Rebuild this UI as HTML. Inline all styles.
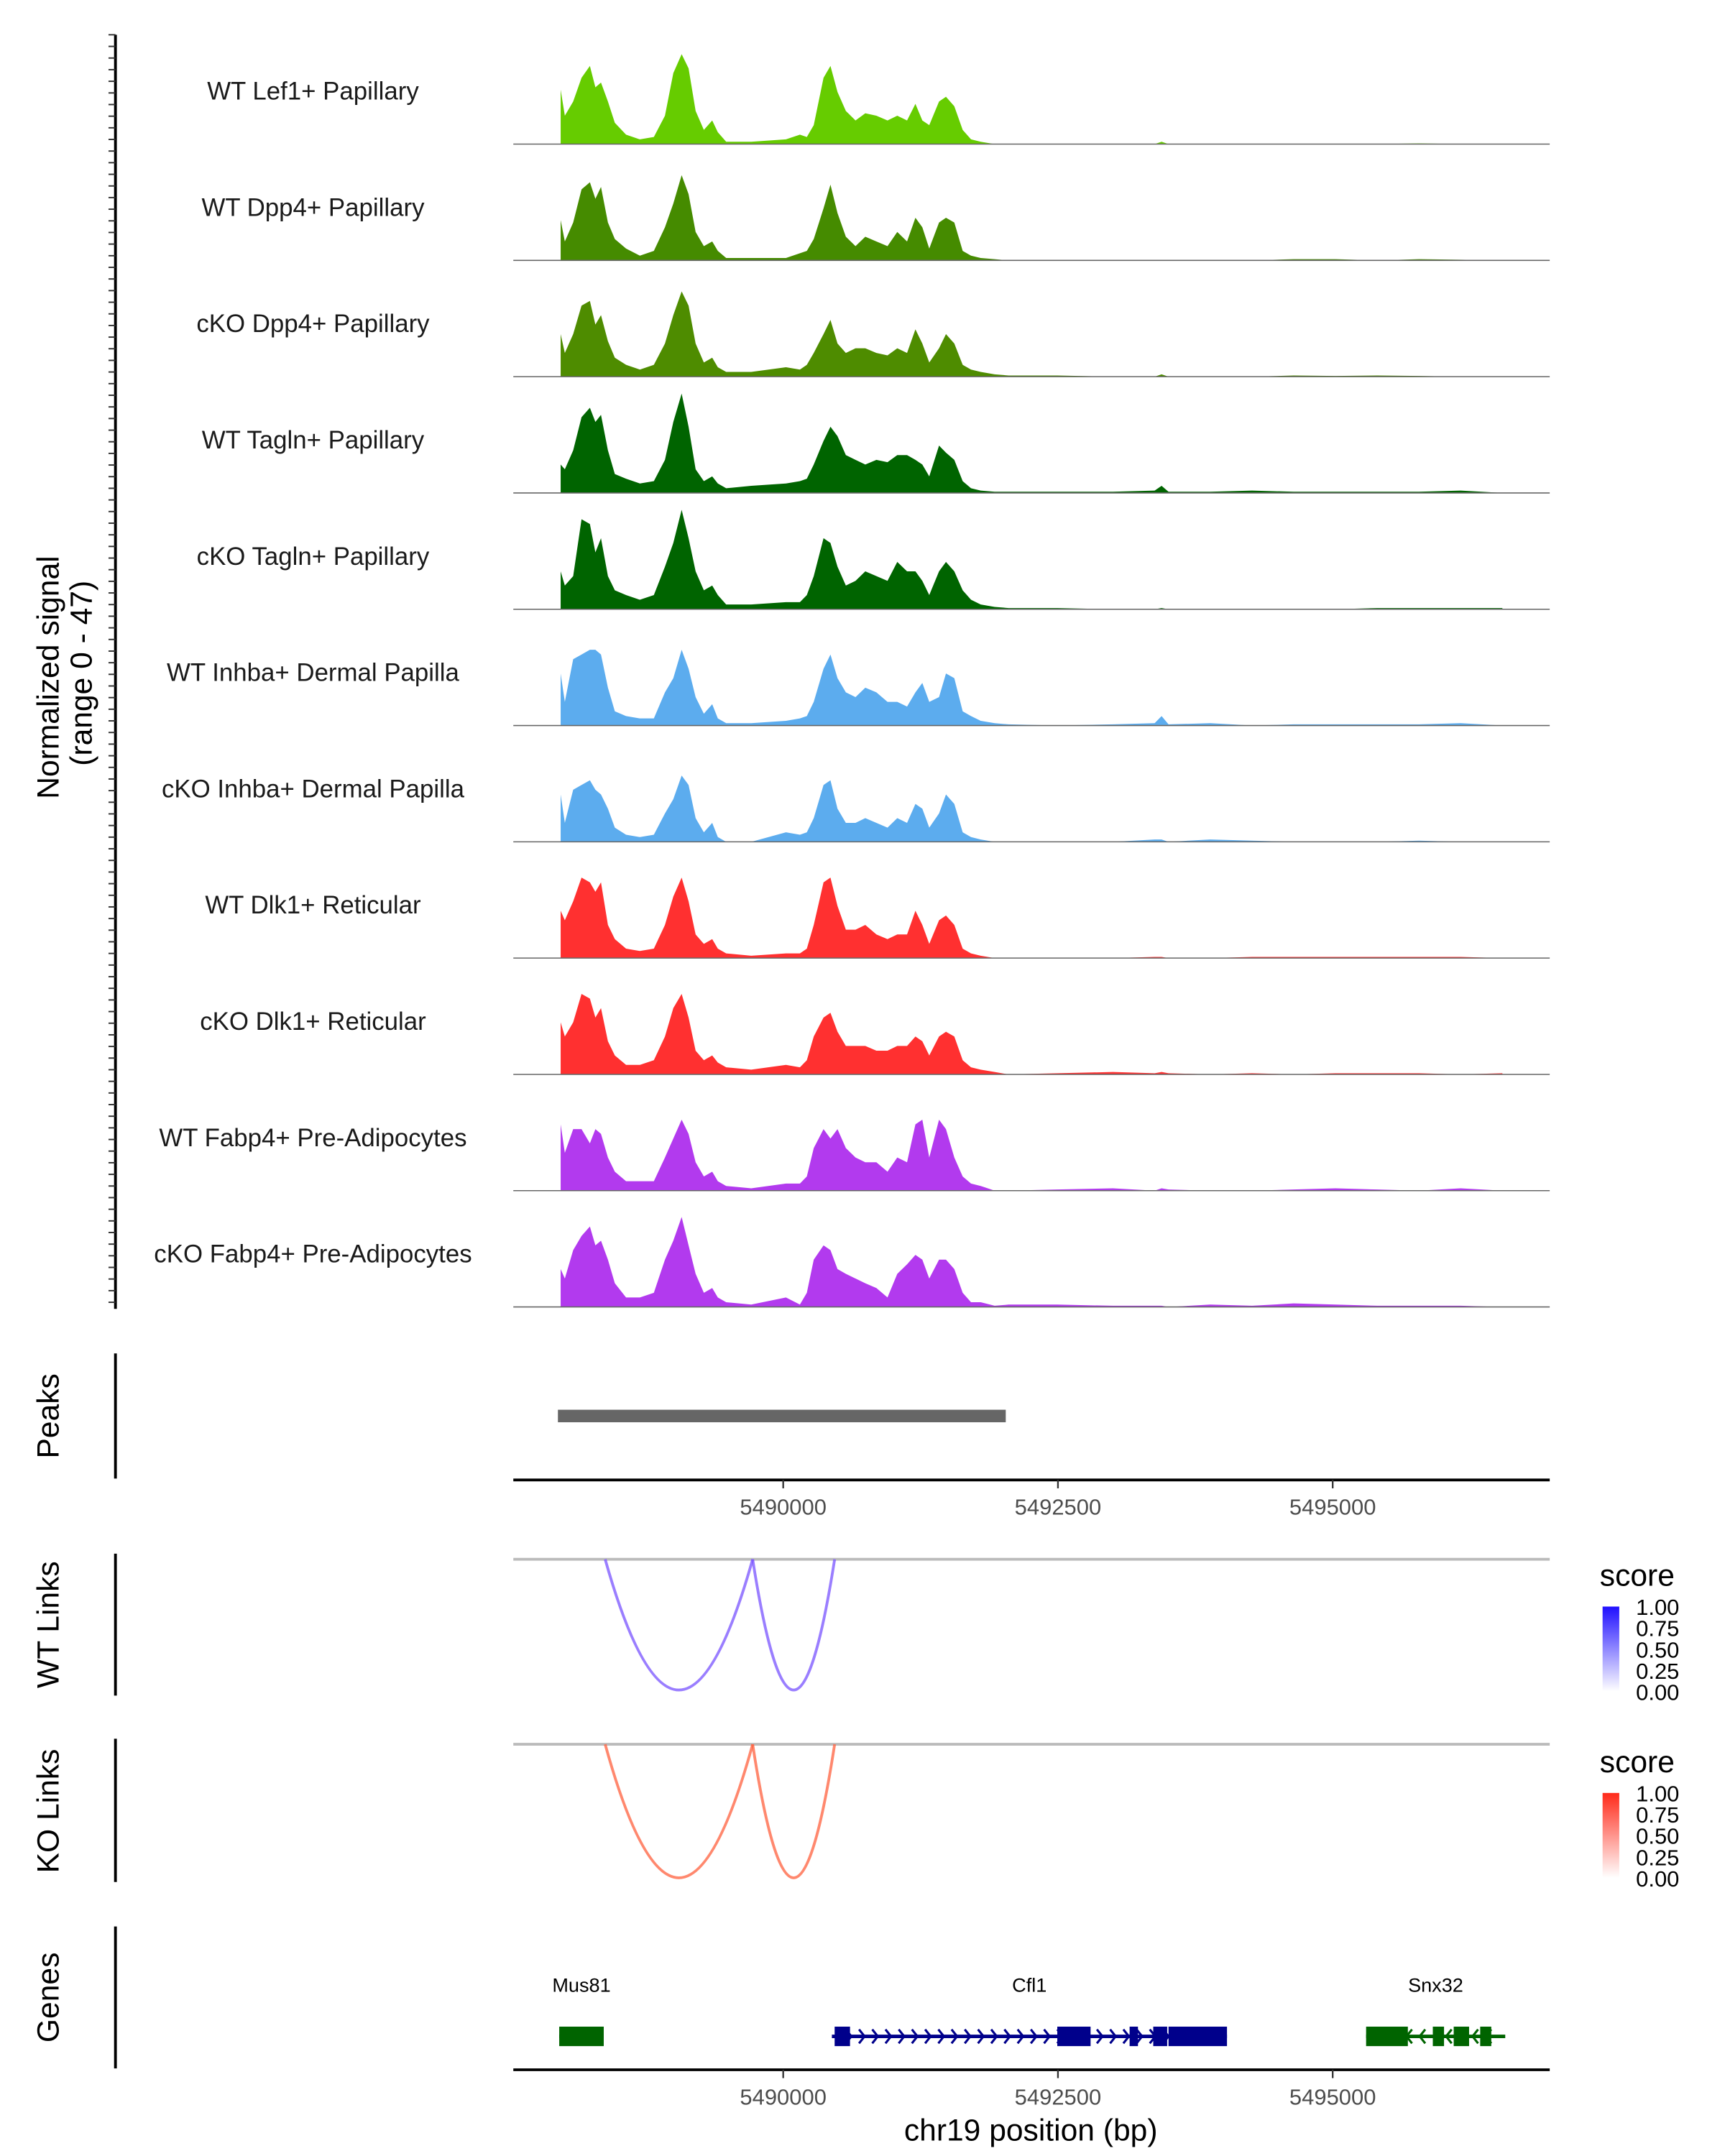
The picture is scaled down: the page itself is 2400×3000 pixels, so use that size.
<!DOCTYPE html>
<html><head><meta charset="utf-8"><style>
html,body{margin:0;padding:0;background:#fff;}
svg{display:block;font-family:"Liberation Sans","DejaVu Sans",sans-serif;}
</style></head><body>
<svg id="chart" xmlns="http://www.w3.org/2000/svg" width="2400" height="3000" viewBox="0 0 1240 1550" preserveAspectRatio="none">
<g id="g-main"></g>
</svg>
<script>
const trackNames = ["WT Lef1+ Papillary","WT Dpp4+ Papillary","cKO Dpp4+ Papillary","WT Tagln+ Papillary","cKO Tagln+ Papillary","WT Inhba+ Dermal Papilla","cKO Inhba+ Dermal Papilla","WT Dlk1+ Reticular","cKO Dlk1+ Reticular","WT Fabp4+ Pre-Adipocytes","cKO Fabp4+ Pre-Adipocytes"];
const trackColors = ["#66cc00","#458b00","#4e8c00","#006400","#006400","#5cacee","#5cacee","#ff3030","#ff3030","#b23aee","#b23aee"];
const binPos = [5487975,5488013,5488089,5488165,5488241,5488291,5488342,5488405,5488468,5488570,5488696,5488823,5488924,5489000,5489076,5489139,5489203,5489278,5489354,5489405,5489481,5489709,5490025,5490152,5490215,5490278,5490367,5490430,5490494,5490570,5490658,5490747,5490848,5490949,5491038,5491127,5491203,5491266,5491329,5491418,5491481,5491557,5491633,5491709,5491797,5491924,5492051,5492494,5493000,5493380,5493443,5493506,5493886,5494266,5494645,5495025,5495405,5495785,5496164,5496544];
const sig1 = [23,12,18,28,33,24,26,18,9,4,2,3,12,30,38,32,14,6,10,5,1,1,2,4,3,8,28,33,22,14,10,13,12,10,12,10,17,10,8,18,20,16,6,2,1,0,0,0,0,0,1,0,0,0,0,0,0,0.3,0,0];
const sig2 = [17,8,16,30,33,26,31,16,9,5,2,4,14,24,36,28,12,6,8,4,1,1,1,3,4,9,22,32,20,10,6,10,8,6,12,8,18,14,5,16,18,16,4,2,1,0.5,0,0,0,0,0,0,0,0,0.5,0.5,0,0.5,0.3,0];
const sig3 = [18,10,18,30,32,22,26,15,8,5,3,5,14,26,36,30,14,6,8,4,2,2,4,3,5,10,18,24,14,10,12,12,10,9,12,10,20,14,6,12,18,14,5,3,2,1,0.5,0.5,0,0,1,0,0,0,0.5,0.3,0.5,0.3,0,0];
const sig4 = [12,10,18,32,36,30,33,18,8,6,4,5,14,30,42,28,10,5,7,4,2,3,4,5,6,12,22,28,24,16,14,12,14,13,16,16,14,12,7,20,17,14,5,2,1,0.5,0.5,0.5,0.5,1,3,0.5,0.5,1,0.5,0.5,0.5,0.5,1,0];
const sig5 = [16,10,14,38,36,24,30,14,8,6,4,6,18,28,42,30,16,8,10,6,2,2,3,3,6,14,30,28,18,10,12,16,14,12,20,16,16,12,6,16,20,16,8,4,2,1,0.5,0.5,0,0,0.5,0,0,0,0,0,0.5,0.5,0.5,0.5];
const sig6 = [22,10,28,30,32,32,30,16,6,4,3,3,14,20,32,24,12,5,9,3,1,1,2,3,4,10,24,30,20,14,12,16,14,10,10,8,14,18,10,12,22,20,6,4,2,1,0.5,0,0.5,1,4,0.5,1,0,0.5,0.5,0.5,0.5,1,0];
const sig7 = [20,8,22,24,26,22,20,14,6,3,2,3,12,18,28,24,10,4,8,2,0,0,4,3,4,10,24,26,14,8,8,10,8,6,10,8,16,14,6,12,20,16,4,2,1,0,0,0,0,1,1,0,1,0.5,0,0,0,0.5,0,0];
const sig8 = [20,16,24,34,32,28,32,14,8,4,3,4,14,26,34,24,10,6,8,4,2,1,2,2,4,14,32,34,22,12,12,14,10,8,10,10,20,14,6,16,18,14,4,2,1,0,0,0,0,0.5,0.5,0,0,0.5,0.5,0.5,0.5,0.5,0.5,0];
const sig9 = [22,16,22,34,32,24,28,14,8,4,4,6,16,28,34,24,10,6,8,5,3,2,4,3,6,16,24,26,18,12,12,12,10,10,12,12,16,14,8,16,18,16,6,3,2,1,0,0.5,1,0.5,1,0.5,0,0.5,0,0.5,0.5,0.5,0,0.5];
const sig10 = [28,16,26,26,20,26,24,14,8,4,4,4,14,22,30,24,12,6,8,4,2,1,3,3,6,18,26,22,26,18,14,12,12,8,14,12,28,30,14,30,26,14,6,3,2,0,0,0.5,1,0,1,0.5,0,0,0.5,1,0.5,0,1,0];
const sig11 = [16,12,24,30,34,26,28,20,10,4,4,6,20,28,38,26,14,6,8,4,2,1,4,1,6,20,26,24,16,14,12,10,8,4,14,18,22,20,12,20,20,16,6,2,2,0.5,1,1,0.5,0.5,0.5,0,1,0.5,1.5,1,0.5,0.5,0.5,0];
const signals = [sig1,sig2,sig3,sig4,sig5,sig6,sig7,sig8,sig9,sig10,sig11];
const yMax = 47;
const xTicks = [5490000,5492500,5495000];
const xTickLabels = ["5490000","5492500","5495000"];
const peakStarts = [5487950];
const peakEnds = [5492025];
const linkStarts = [5488380,5489722];
const linkEnds = [5489722,5490468];
const wtLinkScores = [0.6,0.6];
const koLinkScores = [0.6,0.6];
const legendLabels = ["1.00","0.75","0.50","0.25","0.00"];
const genes = ["Mus81","Cfl1","Snx32"];
const geneStart = [5487962,5490443,5495304];
const geneEnd = [5488367,5494038,5496570];
const geneStrand = [1,1,-1];
const geneColor = ["#006400","#00008b","#006400"];
const exonGene = [0,1,1,1,1,1,2,2,2,2];
const exonStart = [5487962,5490468,5492494,5493152,5493367,5493506,5495304,5495911,5496101,5496342];
const exonEnd = [5488367,5490608,5492797,5493228,5493494,5494038,5495684,5496013,5496241,5496443];

const NS="http://www.w3.org/2000/svg";
const root=document.getElementById('g-main');
function mk(tag,attrs,parent){const e=document.createElementNS(NS,tag);for(const k in attrs)e.setAttribute(k,attrs[k]);(parent||root).appendChild(e);return e;}
const PX0=369, PX1=1114;
function xs(bp){return 563+(bp-5490000)*0.0790;}
const trackTop=20, trackH=83.6, unitPx=80/yMax;
function txt(s,x,y,size,fill,anchor,rot){const t=mk('text',{x:x,y:y,'font-size':size,fill:fill,'text-anchor':anchor||'middle'});if(rot)t.setAttribute('transform','rotate(-90 '+x+' '+y+')');t.textContent=s;return t;}

signals.forEach((vals,i)=>{
  const base=trackTop+trackH*(i+1);
  const g=mk('g',{});
  
  
  let d='M'+xs(binPos[0])+','+base;
  vals.forEach((v,j)=>{d+=' L'+xs(binPos[j]).toFixed(2)+','+(base-v*unitPx).toFixed(2);});
  d+=' L'+xs(binPos[binPos.length-1])+','+base+' Z';
  const p=mk('path',{d:d,fill:trackColors[i],stroke:'none'},g);
  
  
  const bl=mk('line',{x1:PX0,x2:PX1,y1:base,y2:base,stroke:'#666','stroke-width':0.8},g);
  
  
  const lab=txt(trackNames[i],225,base-32,18,'#1a1a1a');
  
  
});
const la=mk('line',{x1:83,x2:83,y1:25,y2:941,stroke:'#000','stroke-width':2});


for(let k=0;k<=110;k++){const y=trackTop+trackH/10*k+5;if(y>941)break;mk('line',{x1:78,x2:83,y1:y,y2:y,stroke:'#333','stroke-width':1});}
const yt1=txt('Normalized signal',42,487,22,'#000','middle',true);


const yt2=txt('(range 0 - 47)',66,484,22,'#000','middle',true);



peakStarts.forEach((s,i)=>{const r=mk('rect',{x:xs(s),y:1013.5,width:xs(peakEnds[i])-xs(s),height:9,fill:'#666'});

});
function sideLabel(s,yc,y1,y2,name){const t=txt(s,42,yc,22,'#000','middle',true);


mk('line',{x1:83,x2:83,y1:y1,y2:y2,stroke:'#000','stroke-width':2});}
sideLabel('Peaks',1018,973,1063,'peaks');
sideLabel('WT Links',1168,1117,1219,'wt-links');
sideLabel('KO Links',1302,1250,1353,'ko-links');
sideLabel('Genes',1436,1385,1487,'genes');

function xAxis(y,name){const a=mk('line',{x1:PX0,x2:PX1,y1:y,y2:y,stroke:'#000','stroke-width':2});


xTicks.forEach((t,i)=>{mk('line',{x1:xs(t),x2:xs(t),y1:y,y2:y+6,stroke:'#333','stroke-width':1.2});
const l=txt(xTickLabels[i],xs(t),y+25,16,'#4d4d4d');

});}
xAxis(1064,'peaks-x-axis');

function links(y0,depth,scores,col,name){
  mk('line',{x1:PX0,x2:PX1,y1:y0,y2:y0,stroke:'#bbb','stroke-width':2});
  linkStarts.forEach((s,i)=>{const a=xs(s),b=xs(linkEnds[i]);const yc=y0+depth*2;
  const p=mk('path',{d:`M${a},${y0} Q${(a+b)/2},${yc} ${b},${y0}`,fill:'none',stroke:col,'stroke-width':2,'stroke-opacity':0.4+0.6*scores[i]});
  
  });
}
links(1121,94,wtLinkScores,'#7a55ff','wt-link-arc');
links(1254,96,koLinkScores,'#ff6240','ko-link-arc');

function legend(y,c,id){
  const defs=mk('defs',{});const lg=mk('linearGradient',{id:id,x1:0,y1:0,x2:0,y2:1},defs);
  mk('stop',{offset:0,'stop-color':c},lg);mk('stop',{offset:1,'stop-color':'#fff'},lg);
  const t=txt('score',1150,y,22,'#000','start');
  
  
  const r=mk('rect',{x:1152,y:y+15,width:12,height:61,fill:'url(#'+id+')'});
  
  
  legendLabels.forEach((l,i)=>{const tt=txt(l,1176,y+21+i*15.3,16,'#000','start');
  
  });
}
legend(1140,'#2010ff','gw');
legend(1274,'#ff2a1a','gk');

genes.forEach((g,i)=>{
  const a=xs(geneStart[i]),b=xs(geneEnd[i]),c=geneColor[i];
  const t=txt(g,(a+b)/2,1432,14,'#000');
  
  
  const ln=mk('line',{x1:a,x2:b,y1:1464,y2:1464,stroke:c,'stroke-width':2.5});
  
  
  for(let x=a+12;x<b-8;x+=9.5){
    const dir=geneStrand[i];
    mk('path',{d:`M${x-2*dir},${1459} L${x+2*dir},1464 L${x-2*dir},1469`,fill:'none',stroke:c,'stroke-width':1.6});
  }
});
exonStart.forEach((s,i)=>{const r=mk('rect',{x:xs(s),y:1457,width:xs(exonEnd[i])-xs(s),height:14,fill:geneColor[exonGene[i]]});

});
xAxis(1488,'genes-x-axis');
const xt=txt('chr19 position (bp)',741,1539,22,'#000');


</script>
</body></html>
